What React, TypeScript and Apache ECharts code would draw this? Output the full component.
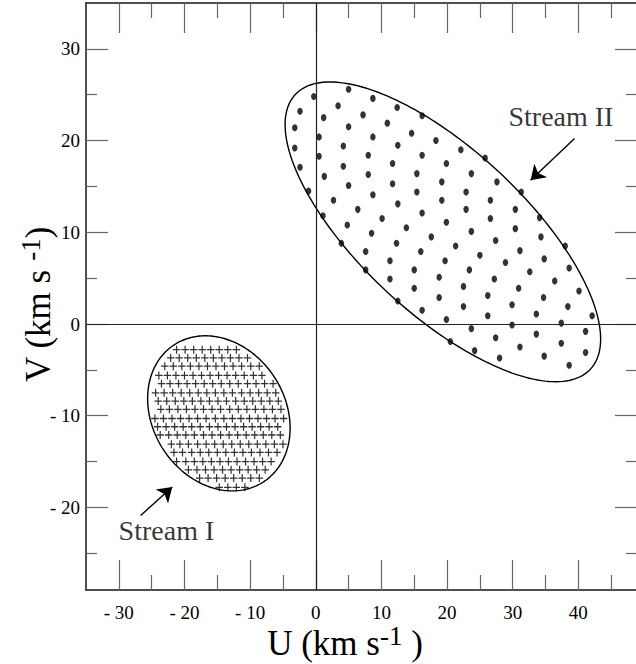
import React, { useEffect, useRef } from 'react';
import * as echarts from 'echarts';

const FONT = 'Liberation Serif, Times New Roman, serif';

const U_RANGE = [-35, 50];
const V_RANGE = [-29, 35];
const U_MAJOR_TICKS = [-30, -20, -10, 0, 10, 20, 30, 40];
const U_MINOR_TICKS = [-25, -15, -5, 5, 15, 25, 35, 45];
const V_MAJOR_TICKS = [-20, -10, 0, 10, 20, 30];
const V_MINOR_TICKS = [-25, -15, -5, 5, 15, 25];

// Stream I (crosses): one V value per row, U values of the crosses in that row
const STREAM_I_ROW_V = [-2.8, -3.7, -4.6, -5.6, -6.5, -7.5, -8.4, -9.3, -10.3, -11.2, -12.1, -13.1, -14.0, -15.0, -15.9, -16.8, -17.8];
const STREAM_I_ROW_U = [
  [-21.2, -19.9, -18.6, -17.3, -16.0, -14.7, -13.4, -12.1],
  [-22.1, -20.8, -19.5, -18.2, -16.9, -15.6, -14.3, -13.0, -11.7, -10.4],
  [-23.0, -21.7, -20.4, -19.1, -17.8, -16.5, -15.2, -13.9, -12.6, -11.3, -9.9, -8.6],
  [-23.9, -22.6, -21.3, -20.0, -18.7, -17.4, -16.1, -14.8, -13.5, -12.2, -10.9, -9.5, -8.2],
  [-23.5, -22.2, -20.9, -19.6, -18.3, -17.0, -15.7, -14.4, -13.1, -11.8, -10.4, -9.1, -7.8, -6.5],
  [-24.4, -23.1, -21.8, -20.5, -19.2, -17.9, -16.6, -15.3, -14.0, -12.7, -11.3, -10.0, -8.7, -7.4, -6.1],
  [-24.0, -22.7, -21.4, -20.1, -18.8, -17.5, -16.2, -14.9, -13.6, -12.2, -10.9, -9.6, -8.3, -7.0, -5.7],
  [-23.6, -22.3, -21.0, -19.7, -18.4, -17.1, -15.8, -14.5, -13.1, -11.8, -10.5, -9.2, -7.9, -6.6, -5.3],
  [-24.5, -23.2, -21.9, -20.6, -19.3, -18.0, -16.7, -15.3, -14.0, -12.7, -11.4, -10.1, -8.8, -7.5, -6.2, -4.9],
  [-24.1, -22.8, -21.5, -20.2, -18.9, -17.6, -16.2, -14.9, -13.6, -12.3, -11.0, -9.7, -8.4, -7.1, -5.8],
  [-23.7, -22.4, -21.1, -19.8, -18.5, -17.1, -15.8, -14.5, -13.2, -11.9, -10.6, -9.3, -8.0, -6.7, -5.4],
  [-22.0, -20.7, -19.4, -18.0, -16.7, -15.4, -14.1, -12.8, -11.5, -10.2, -8.9, -7.6, -6.3, -5.0],
  [-21.6, -20.3, -18.9, -17.6, -16.3, -15.0, -13.7, -12.4, -11.1, -9.8, -8.5, -7.2, -5.9],
  [-21.2, -19.8, -18.5, -17.2, -15.9, -14.6, -13.3, -12.0, -10.7, -9.4, -8.1, -6.8],
  [-19.4, -18.1, -16.8, -15.5, -14.2, -12.9, -11.6, -10.3, -9.0, -7.7],
  [-17.7, -16.4, -15.1, -13.8, -12.5, -11.2, -9.9, -8.6],
  [-14.7, -13.4, -12.1, -10.8],
];

// Stream II (dots): [U, V]
const STREAM_II_POINTS = [
  [5.0, 25.6], [8.7, 24.6], [12.4, 23.6], [16.2, 22.7],
  [3.4, 23.8], [7.2, 22.8], [10.9, 21.9], [14.6, 20.8], [18.3, 20.0], [22.1, 19.0], [25.8, 18.1],
  [1.2, 22.5], [5.0, 21.5], [8.7, 20.4], [12.5, 19.5], [16.2, 18.4], [19.9, 17.5], [23.7, 16.4], [27.6, 15.5], [31.3, 14.4],
  [0.5, 20.4], [4.2, 19.4], [8.0, 18.4], [11.7, 17.5], [15.4, 16.4], [19.2, 15.5], [22.9, 14.4], [26.6, 13.5], [30.4, 12.5], [34.1, 11.6],
  [0.5, 18.3], [4.2, 17.2], [8.0, 16.3], [11.7, 15.3], [15.4, 14.4], [19.2, 13.5], [22.9, 12.5], [26.6, 11.5], [30.4, 10.4], [34.3, 9.5], [38.0, 8.5],
  [1.3, 16.1], [5.0, 15.1], [8.7, 14.1], [12.5, 13.1], [16.2, 12.1], [19.9, 11.1], [23.7, 10.1], [27.4, 9.1], [31.1, 8.0], [34.8, 7.1], [38.6, 6.1],
  [2.7, 13.5], [6.4, 12.5], [10.1, 11.5], [13.8, 10.5], [17.6, 9.5], [21.3, 8.5], [25.0, 7.5], [28.9, 6.7], [32.6, 5.7], [36.4, 4.7], [40.1, 3.6],
  [1.1, 11.8], [4.8, 10.8], [8.5, 9.9], [12.3, 8.8], [16.0, 7.9], [19.7, 6.9], [23.4, 5.9], [27.2, 4.9], [30.9, 3.9], [34.7, 2.9], [38.4, 1.9], [42.1, 0.9],
  [3.9, 8.8], [7.6, 7.9], [11.3, 6.9], [15.0, 5.9], [18.8, 5.1], [22.5, 4.1], [26.2, 3.1], [29.9, 2.1], [33.6, 1.1], [37.4, 0.1], [41.1, -0.8],
  [7.6, 5.9], [11.3, 4.9], [15.0, 3.9], [18.8, 2.9], [22.5, 1.9], [26.2, 0.9], [29.9, -0.1],
  [12.5, 2.5], [16.2, 1.5], [19.9, 0.5], [23.7, -0.5],
  [20.5, -1.9], [24.2, -2.9], [27.4, -1.5], [33.6, -1.1], [37.4, -2.1], [31.1, -2.5], [41.1, -3.1],
  [28.0, -3.7], [34.8, -3.5], [38.6, -4.5],
  [-0.3, 24.8], [-2.4, 23.2], [-3.2, 21.4], [-3.2, 19.2], [-2.4, 17.1], [-1.1, 14.5],
];

// Ellipses: centre and two conjugate semi-axis vectors (km/s)
const ELLIPSE_I_CENTER = [-14.76, -9.74];
const ELLIPSE_I_AXIS_A = [6.81, -7.47];
const ELLIPSE_I_AXIS_B = [-8.45, -3.96];
const ELLIPSE_II_CENTER = [19.36, 10.05];
const ELLIPSE_II_AXIS_A = [22.48, -14.97];
const ELLIPSE_II_AXIS_B = [-8.5, -6.55];

// Annotations
const LABEL_NAMES = ['Stream I', 'Stream II'];
const LABEL_POS = [[-22.75, -22.5], [37.35, 22.58]];
const ARROW_TAILS = [[-26.68, -20.87], [39.42, 20.22]];
const ARROW_TIPS = [[-21.86, -17.78], [32.72, 15.68]];

const PLUS_PATH = 'path://M4.2,0H5.8V4.2H10V5.8H5.8V10H4.2V5.8H0V4.2H4.2Z';

const fmt = (v: number) => (v < 0 ? '- ' + Math.abs(v) : String(v));

function ellipseSeries(center: number[], a: number[], b: number[]) {
  return {
    type: 'custom',
    xAxisIndex: 0,
    yAxisIndex: 0,
    silent: true,
    z: 3,
    data: [[center[0], center[1]]],
    renderItem: (_params: any, api: any) => {
      const pts: number[][] = [];
      const n = 200;
      for (let i = 0; i < n; i++) {
        const t = (i / n) * Math.PI * 2;
        const c = Math.cos(t);
        const s = Math.sin(t);
        pts.push(api.coord([center[0] + a[0] * c + b[0] * s, center[1] + a[1] * c + b[1] * s]));
      }
      return {
        type: 'polygon',
        shape: { points: pts },
        style: { fill: 'none', stroke: '#000', lineWidth: 1.4 },
      };
    },
  };
}

const FRAME = { show: true, onZero: false, lineStyle: { color: '#444', width: 1.5 } };
const TICK_STYLE = { color: '#666', width: 1.2 };

function xAxisDef(position: string, ticks: number[], length: number, extra: any = {}) {
  return {
    type: 'value',
    position,
    min: U_RANGE[0],
    max: U_RANGE[1],
    gridIndex: 0,
    axisLine: FRAME,
    axisTick: { show: true, inside: true, length, customValues: ticks, lineStyle: TICK_STYLE },
    axisLabel: { show: false },
    splitLine: { show: false },
    ...extra,
  };
}

function yAxisDef(position: string, ticks: number[], length: number, extra: any = {}) {
  return {
    type: 'value',
    position,
    min: V_RANGE[0],
    max: V_RANGE[1],
    gridIndex: 0,
    axisLine: FRAME,
    axisTick: { show: true, inside: true, length, customValues: ticks, lineStyle: TICK_STYLE },
    axisLabel: { show: false },
    splitLine: { show: false },
    ...extra,
  };
}

export default function App() {
  const ref = useRef<HTMLDivElement>(null);

  useEffect(() => {
    if (!ref.current) return;
    const chart = echarts.init(ref.current, undefined, { renderer: 'svg' });

    const crosses: number[][] = [];
    STREAM_I_ROW_U.forEach((row, i) => row.forEach((u) => crosses.push([u, STREAM_I_ROW_V[i]])));

    const supStyle = { fontSize: 27, lineHeight: 27, verticalAlign: 'top', fontFamily: FONT, color: '#000' };

    const option: any = {
      animation: false,
      backgroundColor: '#fff',
      textStyle: { fontFamily: FONT },
      grid: { left: 86, right: -8, top: 3, bottom: 74, containLabel: false, outerBoundsMode: 'none' },
      xAxis: [
        xAxisDef('bottom', U_MAJOR_TICKS, 30, {
          axisLabel: {
            show: true,
            customValues: U_MAJOR_TICKS,
            formatter: fmt,
            margin: 13,
            fontFamily: FONT,
            fontSize: 19,
            color: '#000',
          },
          name: 'U (km s{sup|-1} )',
          nameLocation: 'middle',
          nameGap: 32,
          nameMoveOverlap: false,
          nameTextStyle: {
            fontFamily: FONT,
            fontSize: 35,
            lineHeight: 42,
            color: '#000',
            padding: [0, 40, 0, 0],
            rich: { sup: supStyle },
          },
        }),
        xAxisDef('bottom', U_MINOR_TICKS, 15),
        xAxisDef('top', U_MAJOR_TICKS, 30),
        xAxisDef('top', U_MINOR_TICKS, 15),
      ],
      yAxis: [
        yAxisDef('left', V_MAJOR_TICKS, 22, {
          axisLabel: {
            show: true,
            customValues: V_MAJOR_TICKS,
            formatter: fmt,
            margin: 6,
            fontFamily: FONT,
            fontSize: 19,
            color: '#000',
          },
          name: 'V (km s {sup|-1})',
          nameLocation: 'middle',
          nameGap: 27,
          nameMoveOverlap: false,
          nameTextStyle: {
            fontFamily: FONT,
            fontSize: 35,
            lineHeight: 42,
            color: '#000',
            padding: [0, 16, 0, 0],
            rich: { sup: supStyle },
          },
        }),
        yAxisDef('left', V_MINOR_TICKS, 11),
        yAxisDef('right', V_MAJOR_TICKS, 29),
        yAxisDef('right', V_MINOR_TICKS, 18),
      ],
      series: [
        {
          name: 'axes zero',
          type: 'scatter',
          xAxisIndex: 0,
          yAxisIndex: 0,
          data: [],
          silent: true,
          markLine: {
            silent: true,
            symbol: ['none', 'none'],
            label: { show: false },
            lineStyle: { color: '#222', width: 1.2, type: 'solid' },
            data: [{ xAxis: 0 }, { yAxis: 0 }],
          },
          z: 1,
        },
        ellipseSeries(ELLIPSE_I_CENTER, ELLIPSE_I_AXIS_A, ELLIPSE_I_AXIS_B),
        ellipseSeries(ELLIPSE_II_CENTER, ELLIPSE_II_AXIS_A, ELLIPSE_II_AXIS_B),
        {
          name: 'Stream II',
          type: 'scatter',
          xAxisIndex: 0,
          yAxisIndex: 0,
          symbol: 'circle',
          symbolSize: [5.5, 7],
          itemStyle: { color: '#000' },
          data: STREAM_II_POINTS,
          silent: true,
          z: 4,
        },
        {
          name: 'Stream I',
          type: 'scatter',
          xAxisIndex: 0,
          yAxisIndex: 0,
          symbol: PLUS_PATH,
          symbolSize: [7.5, 8],
          symbolKeepAspect: false,
          itemStyle: { color: '#000' },
          data: crosses,
          silent: true,
          z: 4,
        },
        {
          name: 'labels',
          type: 'scatter',
          xAxisIndex: 0,
          yAxisIndex: 0,
          symbolSize: 0,
          silent: true,
          data: LABEL_POS.map((p, i) => ({ value: p, name: LABEL_NAMES[i] })),
          label: {
            show: true,
            position: 'inside',
            formatter: (p: any) => p.name,
            fontFamily: FONT,
            fontSize: 28,
            color: '#000',
          },
          markLine: {
            silent: true,
            symbol: ['none', 'arrow'],
            symbolSize: 14,
            label: { show: false },
            lineStyle: { color: '#000', width: 1.4, type: 'solid' },
            data: ARROW_TAILS.map((t, i) => [{ coord: t }, { coord: ARROW_TIPS[i] }]),
          },
          z: 5,
        },
      ],
    };

    chart.setOption(option);
    return () => chart.dispose();
  }, []);

  return (
    <div
      ref={ref}
      style={{ position: 'absolute', left: 0, top: 0, width: 636, height: 664, background: '#fff' }}
    />
  );
}
